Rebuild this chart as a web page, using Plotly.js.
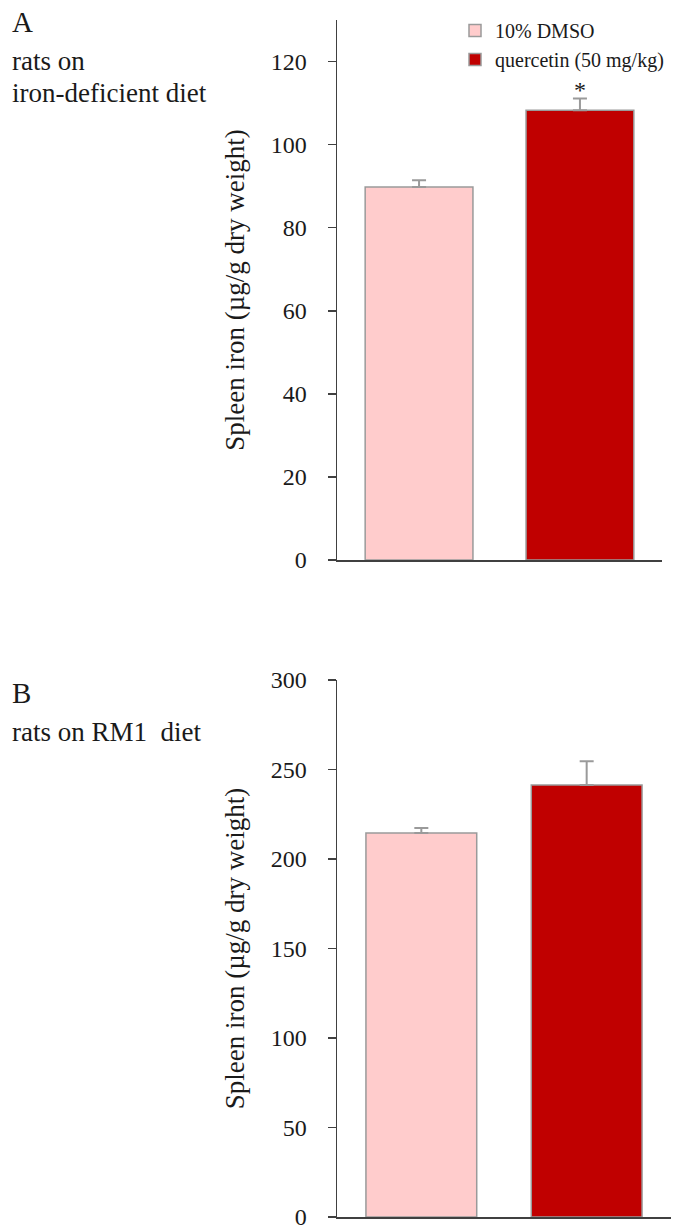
<!DOCTYPE html>
<html>
<head>
<meta charset="utf-8">
<script src="https://cdn.plot.ly/plotly-3.0.1.min.js"></script>
<style>
  html, body { margin: 0; padding: 0; background: #ffffff; }
  #chart { width: 680px; height: 1231px; }
</style>
</head>
<body>
<div id="chart"></div>
<script>
// ---- data ----
const categories = ['10% DMSO', 'quercetin (50 mg/kg)'];
const panelA_values = [89.8, 108.3];
const panelA_errors = [1.6, 2.8];
const panelB_values = [214.5, 241.3];
const panelB_errors = [2.8, 13.3];
const panelA_ticks = [0, 20, 40, 60, 80, 100, 120];
const panelB_ticks = [0, 50, 100, 150, 200, 250, 300];
const panelA_range = [0, 130];
const panelB_range = [0, 300];
const significance = ['', '*'];
const barColors = ['#FFCCCC', '#C00000'];
const yTitle = 'Spleen iron (µg/g dry weight)';

const FONT = 'Liberation Serif, Times New Roman, serif';
const AXIS_COLOR = '#404040';
const BAR_LINE = '#9a9a9a';

// page geometry (pixels)
const PLOT_L = 337, PLOT_R = 671, PLOT_T = 20, PLOT_B = 1217;
const PW = PLOT_R - PLOT_L, PH = PLOT_B - PLOT_T;
const px2x = px => (px - PLOT_L) / PW;
const py2y = py => (PLOT_B - py) / PH;

const traces = [];
categories.forEach((cat, i) => {
  traces.push({
    type: 'bar', name: cat, legendgroup: cat, showlegend: true,
    x: [cat], y: [panelA_values[i]], xaxis: 'x', yaxis: 'y',
    width: 0.67,
    marker: { color: barColors[i], line: { color: BAR_LINE, width: 1.5 } },
    error_y: { type: 'data', array: [panelA_errors[i]], symmetric: false, arrayminus: [0],
               color: BAR_LINE, thickness: 2, width: 7 },
    hoverinfo: 'skip'
  });
  traces.push({
    type: 'bar', name: cat, legendgroup: cat, showlegend: false,
    x: [cat], y: [panelB_values[i]], xaxis: 'x2', yaxis: 'y2',
    width: 0.67,
    marker: { color: barColors[i], line: { color: BAR_LINE, width: 1.5 } },
    error_y: { type: 'data', array: [panelB_errors[i]], symmetric: false, arrayminus: [0],
               color: BAR_LINE, thickness: 2, width: 7 },
    hoverinfo: 'skip'
  });
});

function yAxis(range, ticks, domain, anchor) {
  return {
    domain: domain, anchor: anchor, range: range,
    tickmode: 'array', tickvals: ticks, ticktext: ticks.map(String),
    ticks: 'outside', ticklen: 8, tickwidth: 1.5, tickcolor: AXIS_COLOR,
    ticklabelstandoff: 16, ticklabeloverflow: 'allow',
    showline: true, linecolor: AXIS_COLOR, linewidth: 1.5,
    showgrid: false, zeroline: false,
    tickfont: { family: FONT, size: 24, color: '#1a1a1a' },
    title: { text: yTitle, standoff: 18, font: { family: FONT, size: 27, color: '#1a1a1a' } }
  };
}
function xAxis(domain, anchor) {
  return {
    domain: domain, anchor: anchor, type: 'category',
    categoryorder: 'array', categoryarray: categories,
    range: [-0.51, 1.51],
    showticklabels: false, ticks: '',
    showline: true, linecolor: AXIS_COLOR, linewidth: 1.5,
    showgrid: false, zeroline: false
  };
}

const annotations = [];
categories.forEach((cat, i) => {
  if (significance[i]) {
    annotations.push({
      xref: 'x', yref: 'y', x: cat, y: panelA_values[i] + panelA_errors[i],
      text: significance[i], showarrow: false, yanchor: 'bottom', yshift: -6,
      font: { family: FONT, size: 24, color: '#1a1a1a' }
    });
  }
});
function paperText(text, px, py, size) {
  annotations.push({
    xref: 'paper', yref: 'paper',
    x: px2x(px), y: py2y(py),
    xanchor: 'left', yanchor: 'top', text: text, showarrow: false,
    font: { family: FONT, size: size, color: '#1a1a1a' }
  });
}
paperText('A', 10, 4, 29);
paperText('rats on', 10, 44, 27);
paperText('iron-deficient diet', 10, 76, 27);
paperText('B', 10, 675, 29);
paperText('rats on RM1  diet', 10, 715, 27);

const layout = {
  width: 680, height: 1231,
  margin: { l: PLOT_L, r: 680 - PLOT_R, t: PLOT_T, b: 1231 - PLOT_B, autoexpand: false },
  paper_bgcolor: '#ffffff', plot_bgcolor: '#ffffff',
  barmode: 'overlay',
  showlegend: true,
  legend: {
    x: px2x(455), xanchor: 'left',
    y: py2y(11), yanchor: 'top',
    bgcolor: 'rgba(0,0,0,0)', borderwidth: 0,
    font: { family: FONT, size: 20, color: '#1a1a1a' },
    tracegroupgap: 0, itemclick: false, itemdoubleclick: false
  },
  xaxis: xAxis([0, px2x(662)], 'y'),
  yaxis: yAxis(panelA_range, panelA_ticks, [py2y(560), py2y(20)], 'x'),
  xaxis2: xAxis([0, 1], 'y2'),
  yaxis2: yAxis(panelB_range, panelB_ticks, [0, py2y(680)], 'x2'),
  annotations: annotations
};

Plotly.newPlot('chart', traces, layout, { staticPlot: true, displayModeBar: false });
</script>
</body>
</html>
